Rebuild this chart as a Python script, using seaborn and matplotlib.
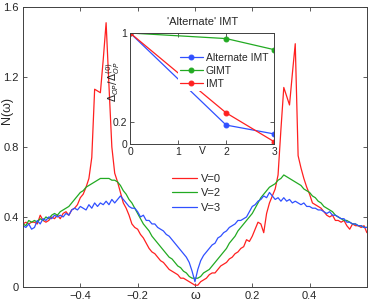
import matplotlib
matplotlib.use("Agg")
import matplotlib.pyplot as plt
import numpy as np
import seaborn as sns

sns.set_style("ticks")
plt.rcParams["font.family"] = ["Liberation Sans", "DejaVu Sans"]
plt.rcParams["mathtext.fontset"] = "dejavusans"

# omega grid of the main panel
omega = np.round(np.arange(-60, 61) / 100.0, 2)

dos_v0 = [
    0.36, 0.37, 0.36, 0.37, 0.37, 0.36, 0.41, 0.38, 0.37, 0.38,
    0.40, 0.39, 0.41, 0.39, 0.42, 0.43, 0.41, 0.44, 0.45, 0.47,
    0.51, 0.53, 0.57, 0.62, 0.74, 1.13, 1.12, 1.11, 1.30, 1.51,
    1.15, 0.80, 0.65, 0.60, 0.54, 0.48, 0.45, 0.41, 0.36, 0.34,
    0.33, 0.30, 0.28, 0.25, 0.22, 0.20, 0.19, 0.17, 0.15, 0.14,
    0.12, 0.10, 0.09, 0.08, 0.07, 0.05, 0.05, 0.04, 0.03, 0.02,
    0.01, 0.01, 0.03, 0.04, 0.05, 0.07, 0.08, 0.08, 0.10, 0.12,
    0.13, 0.14, 0.16, 0.17, 0.19, 0.20, 0.22, 0.23, 0.27, 0.26,
    0.29, 0.33, 0.37, 0.36, 0.31, 0.42, 0.48, 0.52, 0.56, 0.64,
    0.90, 1.14, 1.09, 1.04, 1.22, 1.39, 0.75, 0.68, 0.62, 0.57,
    0.53, 0.48, 0.47, 0.46, 0.45, 0.43, 0.41, 0.40, 0.41, 0.38,
    0.38, 0.37, 0.38, 0.35, 0.33, 0.36, 0.35, 0.35, 0.34, 0.35,
    0.31,
]
dos_v2 = [
    0.36, 0.35, 0.38, 0.37, 0.38, 0.37, 0.39, 0.38, 0.40, 0.39,
    0.41, 0.42, 0.41, 0.43, 0.44, 0.45, 0.46, 0.48, 0.50, 0.52,
    0.54, 0.55, 0.57, 0.58, 0.59, 0.60, 0.61, 0.62, 0.62, 0.62,
    0.62, 0.61, 0.61, 0.60, 0.58, 0.55, 0.53, 0.50, 0.48, 0.45,
    0.42, 0.39, 0.36, 0.34, 0.32, 0.29, 0.27, 0.25, 0.23, 0.21,
    0.19, 0.17, 0.16, 0.14, 0.12, 0.11, 0.09, 0.08, 0.06, 0.05,
    0.05, 0.05, 0.06, 0.08, 0.09, 0.10, 0.12, 0.14, 0.16, 0.18,
    0.20, 0.22, 0.25, 0.27, 0.29, 0.32, 0.34, 0.36, 0.38, 0.40,
    0.42, 0.45, 0.48, 0.51, 0.53, 0.55, 0.57, 0.58, 0.59, 0.61,
    0.62, 0.64, 0.63, 0.62, 0.61, 0.60, 0.59, 0.58, 0.56, 0.55,
    0.54, 0.52, 0.51, 0.49, 0.48, 0.46, 0.45, 0.44, 0.43, 0.41,
    0.40, 0.39, 0.38, 0.38, 0.37, 0.36, 0.36, 0.35, 0.35, 0.34,
    0.34,
]
dos_v3 = [
    0.35, 0.34, 0.36, 0.33, 0.34, 0.38, 0.36, 0.39, 0.38, 0.40,
    0.39, 0.41, 0.40, 0.41, 0.40, 0.42, 0.41, 0.44, 0.45, 0.44,
    0.46, 0.45, 0.44, 0.47, 0.45, 0.48, 0.46, 0.48, 0.47, 0.49,
    0.47, 0.50, 0.48, 0.50, 0.52, 0.50, 0.48, 0.46, 0.45, 0.45,
    0.43, 0.40, 0.41, 0.38, 0.38, 0.36, 0.36, 0.34, 0.33, 0.32,
    0.30, 0.29, 0.27, 0.25, 0.23, 0.21, 0.19, 0.17, 0.14, 0.09,
    0.03, 0.10, 0.15, 0.18, 0.20, 0.22, 0.24, 0.25, 0.28, 0.29,
    0.31, 0.32, 0.34, 0.35, 0.36, 0.38, 0.38, 0.39, 0.40, 0.43,
    0.46, 0.47, 0.49, 0.50, 0.52, 0.51, 0.54, 0.52, 0.50, 0.51,
    0.49, 0.51, 0.49, 0.50, 0.48, 0.49, 0.48, 0.47, 0.48, 0.46,
    0.46, 0.45, 0.45, 0.44, 0.44, 0.43, 0.42, 0.43, 0.41, 0.41,
    0.40, 0.39, 0.39, 0.37, 0.37, 0.36, 0.36, 0.35, 0.35, 0.34,
    0.34,
]

# inset: order parameter ratio vs V
v_inset = [0, 2, 3]
alt_imt = [1.0, 0.17, 0.09]
gimt = [1.0, 0.95, 0.85]
imt = [1.0, 0.28, 0.02]

RED = "#ff2020"
GREEN = "#22aa22"
BLUE = "#3050ff"
EDGE = "#404040"

fig = plt.figure(figsize=(3.74, 3.03), dpi=100)
ax = fig.add_axes([0.0615, 0.053, 0.9195, 0.924])

sns.lineplot(x=omega, y=dos_v0, ax=ax, color=RED, lw=0.9, label="V=0")
sns.lineplot(x=omega, y=dos_v2, ax=ax, color=GREEN, lw=0.9, label="V=2")
sns.lineplot(x=omega, y=dos_v3, ax=ax, color=BLUE, lw=0.9, label="V=3")

ax.set_xlim(-0.6, 0.6)
ax.set_ylim(0, 1.6)
ax.set_xticks([-0.4, -0.2, 0, 0.2, 0.4])
ax.set_xticklabels(["\u22120.4", "\u22120.2", "", "0.2", "0.4"])
ax.set_yticks([0, 0.4, 0.8, 1.2, 1.6])
ax.set_yticklabels(["0", "0.4", "0.8", "1.2", "1.6"])
ax.tick_params(direction="in", top=True, right=True, labelsize=8, length=3,
               width=0.6, color=EDGE, pad=3)
for s in ax.spines.values():
    s.set_color(EDGE)
    s.set_linewidth(0.7)
ax.set_xlabel("\u03c9", fontsize=9)
ax.xaxis.set_label_coords(0.5, -0.012)
ax.set_ylabel("N(\u03c9)", fontsize=9)
ax.yaxis.set_label_coords(-0.03, 0.63)
ax.legend(loc="upper left", bbox_to_anchor=(0.42, 0.42), frameon=False,
          fontsize=8, handlelength=2.3, handletextpad=0.3, labelspacing=0.4,
          borderaxespad=0)

# inset
ins = fig.add_axes([0.348, 0.525, 0.385, 0.366])
sns.lineplot(x=v_inset, y=alt_imt, ax=ins, color=BLUE, lw=0.9, marker="o",
             markersize=3.5, markeredgecolor=BLUE, label="Alternate IMT")
sns.lineplot(x=v_inset, y=gimt, ax=ins, color=GREEN, lw=0.9, marker="o",
             markersize=3.5, markeredgecolor=GREEN, label="GIMT")
sns.lineplot(x=v_inset, y=imt, ax=ins, color=RED, lw=0.9, marker="o",
             markersize=3.5, markeredgecolor=RED, label="IMT")
ins.set_xlim(0, 3)
ins.set_ylim(0, 1)
ins.set_xticks([0, 1, 2, 3])
ins.set_yticks([0, 0.2, 1])
ins.set_yticklabels(["0", "0.2", "1"])
ins.tick_params(direction="in", top=True, right=True, labelsize=7.5, length=3,
                width=0.6, color=EDGE, pad=2)
for s in ins.spines.values():
    s.set_color(EDGE)
    s.set_linewidth(0.7)
ins.set_xlabel("V", fontsize=7.5)
ins.xaxis.set_label_coords(0.5, -0.02)
ins.set_ylabel(r"$\Delta_{OP}/\Delta_{OP}^{(0)}$", fontsize=7.5)
ins.yaxis.set_label_coords(-0.06, 0.56)
ins.set_title("'Alternate' IMT", fontsize=8, pad=6)
leg = ins.legend(loc="upper left", bbox_to_anchor=(0.33, 0.84), frameon=True,
                 fontsize=7.5, handlelength=2.2, handletextpad=0.3,
                 labelspacing=0.3, borderaxespad=0, borderpad=0.2)
leg.get_frame().set_facecolor("white")
leg.get_frame().set_edgecolor("none")
leg.get_frame().set_alpha(1)
leg.get_frame().set_boxstyle("square", pad=0)

fig.savefig("out.png", dpi=100)
